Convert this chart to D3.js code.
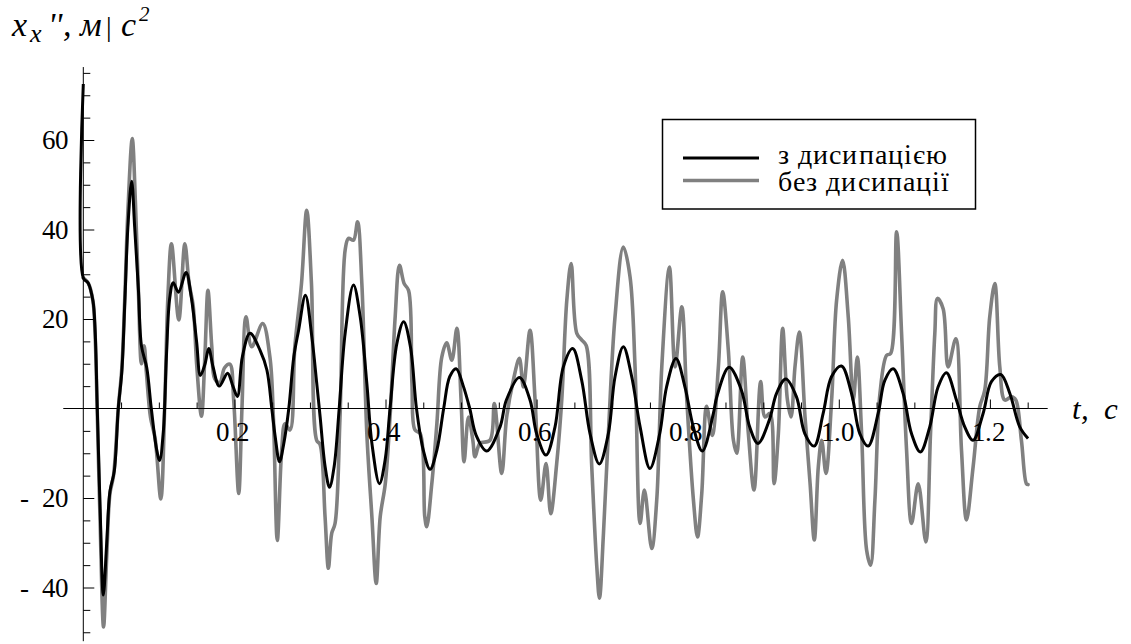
<!DOCTYPE html>
<html>
<head>
<meta charset="utf-8">
<script src="https://cdn.jsdelivr.net/npm/d3@7"></script>
<style>
  @font-face { font-family: "SerifX"; font-style: normal; font-weight: 400;
    src: local("Liberation Serif"), local("LiberationSerif"), local("Times New Roman"), local("Tinos"); }
  @font-face { font-family: "SerifX"; font-style: italic; font-weight: 400;
    src: local("Liberation Serif Italic"), local("LiberationSerif-Italic"), local("Times New Roman Italic"), local("Tinos Italic"); }
  html, body { margin: 0; padding: 0; background: #fff; }
  svg { display: block; }
  svg text { font-family: "SerifX", "Liberation Serif", "Times New Roman"; }
</style>
</head>
<body>
<svg id="chart" width="1131" height="644"></svg>
<script>
// ---------- data ----------
const tBlack = [0, 0, 0.0066, 0.0128, 0.0155, 0.0185, 0.0222, 0.0265, 0.031, 0.0353, 0.041, 0.0463, 0.051, 0.055, 0.059, 0.064, 0.068, 0.073, 0.077, 0.084, 0.090, 0.097, 0.101, 0.106, 0.110, 0.1145, 0.119, 0.126, 0.136, 0.143, 0.150, 0.155, 0.161, 0.166, 0.172, 0.18, 0.191, 0.198, 0.204, 0.2106, 0.2207, 0.234, 0.243, 0.2495, 0.254, 0.2597, 0.2654, 0.272, 0.2786, 0.285, 0.294, 0.3025, 0.309, 0.3135, 0.3201, 0.3259, 0.332, 0.3387, 0.3466, 0.3576, 0.3665, 0.3753, 0.382, 0.392, 0.3995, 0.406, 0.415, 0.424, 0.433, 0.441, 0.450, 0.459, 0.468, 0.477, 0.485, 0.4935, 0.503, 0.5115, 0.52, 0.534, 0.5516, 0.560, 0.5772, 0.5913, 0.600, 0.6125, 0.6244, 0.6354, 0.6478, 0.6597, 0.6707, 0.683, 0.695, 0.7038, 0.7148, 0.7259, 0.737, 0.750, 0.763, 0.772, 0.7845, 0.7964, 0.8074, 0.8193, 0.834, 0.8385, 0.8548, 0.8711, 0.882, 0.893, 0.908, 0.9176, 0.9299, 0.944, 0.955, 0.9674, 0.9793, 0.9903, 1.0035, 1.0168, 1.0278, 1.0388, 1.0521, 1.0609, 1.0719, 1.0851, 1.0962, 1.108, 1.1204, 1.1314, 1.1424, 1.1557, 1.1667, 1.1777, 1.191, 1.202, 1.2144, 1.2263, 1.2395, 1.2505];
const vBlack = [72.5, 29.2, 28, 24, 18, 0, -22, -41.7, -30, -18.5, -14, 0, 8.3, 24, 40.5, 50.8, 40.5, 26.4, 14, 9.1, 0, -9.1, -11.6, -5, 11.6, 24.8, 28.1, 26, 30.4, 24.8, 14.9, 7.4, 9.9, 13.4, 9.1, 5, 7.9, 5, 2.7, 11.6, 16.8, 13, 8.6, 0, -6.3, -11.9, -7.8, 0, 11.5, 17.5, 25.3, 16, 5.6, -1.9, -13, -17.6, -13, 0, 16.8, 27.6, 20.5, 5.6, -7.8, -16.8, -11.5, 0, 14.5, 19.4, 13.8, 0, -9.3, -13.6, -9.3, 0, 7.1, 8.9, 5, 0, -6, -9.5, -4.1, 1.9, 6.9, 1.9, -5.6, -10.4, -4.1, 9.3, 13.4, 6.3, -5.6, -12.4, -5.6, 7.1, 13.8, 7.1, -4.1, -13.4, -5.6, 4.8, 11.2, 4.8, -4.1, -9.5, -1.1, 2.6, 9.2, 4.1, -4.1, -7.8, -2.6, 3.4, 6.6, 2.6, -5.6, -8.4, -1.1, 7.1, 9.5, 3.4, -5.6, -8.4, -1.1, 6.3, 8.9, 3.4, -5.6, -9.7, -4.1, 4.8, 8.0, 1.9, -4.1, -7.1, -1.1, 6, 7.6, 3.4, -4.1, -6.7];

const tGray = [0, 0.0066, 0.0128, 0.0155, 0.0185, 0.0222, 0.0268, 0.031, 0.0353, 0.040, 0.0463, 0.051, 0.055, 0.059, 0.0648, 0.069, 0.073, 0.077, 0.0805, 0.0835, 0.089, 0.095, 0.1026, 0.108, 0.112, 0.1167, 0.1264, 0.1344, 0.140, 0.1454, 0.150, 0.1564, 0.161, 0.165, 0.170, 0.174, 0.1806, 0.187, 0.194, 0.199, 0.2057, 0.210, 0.2154, 0.2229, 0.2374, 0.247, 0.2516, 0.2568, 0.2626, 0.267, 0.2736, 0.280, 0.2888, 0.2957, 0.302, 0.3089, 0.3133, 0.32, 0.3244, 0.3288, 0.3332, 0.3398, 0.3466, 0.351, 0.3576, 0.363, 0.3687, 0.3753, 0.382, 0.3877, 0.393, 0.3997, 0.406, 0.4128, 0.4185, 0.4247, 0.4305, 0.435, 0.439, 0.446, 0.452, 0.4546, 0.4613, 0.468, 0.4745, 0.481, 0.4878, 0.4945, 0.500, 0.504, 0.5098, 0.5156, 0.5185, 0.525, 0.5383, 0.544, 0.5538, 0.5604, 0.5692, 0.5772, 0.5825, 0.5913, 0.598, 0.6055, 0.6125, 0.6187, 0.6266, 0.6333, 0.640, 0.6457, 0.6532, 0.6598, 0.6656, 0.673, 0.6797, 0.6832, 0.6885, 0.695, 0.7038, 0.7148, 0.7237, 0.7303, 0.737, 0.7427, 0.7524, 0.759, 0.7657, 0.7758, 0.7833, 0.7922, 0.7988, 0.8076, 0.813, 0.8186, 0.825, 0.8325, 0.8406, 0.8463, 0.8538, 0.8605, 0.8649, 0.8728, 0.8803, 0.8878, 0.8966, 0.9024, 0.909, 0.9143, 0.92, 0.9257, 0.932, 0.9368, 0.942, 0.9478, 0.9553, 0.962, 0.9676, 0.9729, 0.9773, 0.983, 0.9905, 0.9971, 1.005, 1.0125, 1.0192, 1.0245, 1.0302, 1.0368, 1.0421, 1.0478, 1.0545, 1.0633, 1.0686, 1.0765, 1.0831, 1.0897, 1.0963, 1.1051, 1.1152, 1.1214, 1.1271, 1.1306, 1.1381, 1.1447, 1.1549, 1.1624, 1.169, 1.1778, 1.1866, 1.1932, 1.1998, 1.2065, 1.2131, 1.2197, 1.2285, 1.2342, 1.2417, 1.2483, 1.2505];
const vGray = [29.2, 28, 24, 17, -1, -25, -48.8, -33, -19, -15, 0, 9, 25, 44, 60.3, 46, 26, 10, 14, 8, -2, -6.6, -20.2, 2, 25, 36.8, 19.8, 36.8, 28, 23, 10, -1.7, 12, 26.4, 14, 6.6, 5.8, 9.1, 9.9, 2, -19, 0, 20.5, 13.8, 19, 11.5, -1.9, -29.5, -9.3, -3.4, -4.8, 13.8, 27.9, 44.3, 27.9, -7.1, -8, -24.2, -35.7, -27.9, -25.7, -1.9, 35.4, 38, 37.6, 41.7, 27.9, -5.6, -24.2, -39.1, -24.2, -16.8, -1.9, 20.5, 32, 27.9, 26.4, 5.6, -4.8, -5.6, -24.2, -26.4, -16.8, -3.4, 11.5, 14.7, 10.8, 17.9, 2, -11.9, -1.9, -7.1, -10.8, -7.8, -7.1, 1.1, -14.5, -1.9, 6.3, 11.2, 4.8, 17.5, 1.9, -20.5, -12.3, -23.5, -12.3, 1.9, 24.2, 32.4, 16.8, 15.3, 14.1, -13, -35.4, -42.4, -27.9, -5.6, 20.5, 36.1, 29.4, 9.3, -25.7, -18.2, -31.3, -20.5, 9.3, 31.6, 9.3, 22.7, 1.9, -20.5, -28.7, -19, 0.5, -6, 9.3, 26.1, 13, -7.1, -10, 11.5, -5.6, -18.2, 6, -1.9, -1.1, -16.8, -5.6, 17.9, 1.9, -1.9, 9.3, 17.1, -1.9, -16.8, -29.4, -13, -7.1, -14.5, 1.9, 24.2, 33.1, 20.5, 1.9, 11.5, -5.6, -31.6, -35, -20.5, 3.4, 11.9, 12.3, 39.5, 16.8, -9.3, -25.7, -16.8, -29.8, -5.6, 16.8, 24.6, 22.3, 9.3, 15.6, -9.3, -24.9, -13, 0.4, 4.1, 20.5, 27.9, 9.3, 1.9, 2.6, 1.9, -7.1, -16.8, -17];

const seriesNames = ["з дисипацією", "без дисипації"];
const yMajorTicks = [-40, -20, 20, 40, 60];
const yMajorLabels = ["- 40", "- 20", "20", "40", "60"];
const yMinorTicks = [-50, -45, -35, -30, -25, -15, -10, -5, 5, 10, 15, 25, 30, 35, 45, 50, 55, 65, 70, 75];
const xMajorTicks = [0.2, 0.4, 0.6, 0.8, 1.0, 1.2];
const xMajorLabels = ["0.2", "0.4", "0.6", "0.8", "1.0", "1.2"];
const xMinorTicks = [0.05, 0.1, 0.15, 0.25, 0.3, 0.35, 0.45, 0.5, 0.55, 0.65, 0.7, 0.75, 0.85, 0.9, 0.95, 1.05, 1.1, 1.15, 1.25];

// ---------- scales ----------
const svg = d3.select("#chart");
const x = d3.scaleLinear().domain([0, 1.25]).range([83.3, 83.3 + 1.25 * 755.5]);
const y = d3.scaleLinear().domain([0, 20]).range([408.5, 408.5 - 89.5]);

const blackData = tBlack.map((t, i) => [t, vBlack[i]]);
const grayData = tGray.map((t, i) => [t, vGray[i]]);

const line = d3.line().x(d => x(d[0])).y(d => y(d[1])).curve(d3.curveCatmullRom.alpha(0.5));

// ---------- curves ----------
svg.append("path").datum(grayData).attr("d", line)
  .attr("fill", "none").attr("stroke", "#808080").attr("stroke-width", 3.6)
  .attr("stroke-linejoin", "round").attr("stroke-linecap", "round");
svg.append("path").datum(blackData).attr("d", line)
  .attr("fill", "none").attr("stroke", "#000").attr("stroke-width", 3)
  .attr("stroke-linejoin", "round");

// ---------- axes ----------
const axisG = svg.append("g");
axisG.append("line")
  .attr("x1", x(-0.0265)).attr("x2", x(1.2765))
  .attr("y1", y(0)).attr("y2", y(0))
  .attr("stroke", "#000").attr("stroke-width", 1);
axisG.append("line")
  .attr("x1", x(0)).attr("x2", x(0))
  .attr("y1", y(76.3)).attr("y2", y(-52))
  .attr("stroke", "#000").attr("stroke-width", 1);

function styleAxis(g) {
  g.select(".domain").remove();
  g.attr("font-family", null).attr("font-size", null);
  g.selectAll(".tick line").attr("stroke", "#000").attr("stroke-width", 1);
}

svg.append("g").attr("transform", `translate(${x(0)},0)`)
  .call(d3.axisRight(y).tickValues(yMinorTicks).tickSize(7).tickFormat(""))
  .call(styleAxis);
svg.append("g").attr("transform", `translate(${x(0)},0)`)
  .call(d3.axisRight(y).tickValues(yMajorTicks).tickSize(11).tickFormat(""))
  .call(styleAxis);
const yLab = svg.append("g").attr("transform", `translate(${x(0)},0)`)
  .call(d3.axisLeft(y).tickValues(yMajorTicks).tickSize(0).tickPadding(14.5)
    .tickFormat((d, i) => yMajorLabels[i].replace("- ", "-\u2002")))
  .call(styleAxis);
yLab.selectAll("text").attr("font-size", 27)
  .attr("letter-spacing", -0.5).attr("fill", "#000");

svg.append("g").attr("transform", `translate(0,${y(0)})`)
  .call(d3.axisTop(x).tickValues(xMinorTicks).tickSize(6).tickFormat(""))
  .call(styleAxis);
svg.append("g").attr("transform", `translate(0,${y(0)})`)
  .call(d3.axisTop(x).tickValues(xMajorTicks).tickSize(9).tickFormat(""))
  .call(styleAxis);
const xLab = svg.append("g").attr("transform", `translate(-2,${y(0)})`)
  .call(d3.axisBottom(x).tickValues(xMajorTicks).tickSize(0).tickPadding(13)
    .tickFormat((d, i) => xMajorLabels[i]))
  .call(styleAxis);
xLab.selectAll("text").attr("font-size", 27)
  .attr("letter-spacing", -0.5).attr("fill", "#000");

// ---------- axis titles ----------
const title = svg.append("text")
  .attr("font-style", "italic").attr("font-size", 34).attr("y", 36);
title.append("tspan").attr("x", 12).text("x");
title.append("tspan").attr("x", 30).attr("dy", 6).attr("font-size", 26).text("x");
title.append("tspan").attr("x", 48).attr("dy", -6).text("''");
title.append("tspan").attr("x", 63).text(",");
title.append("tspan").attr("x", 80).text("м");
title.append("tspan").attr("x", 106).attr("font-style", "normal").attr("font-size", 28).text("|");
title.append("tspan").attr("x", 121).text("c");
title.append("tspan").attr("x", 139).attr("dy", -15).attr("font-size", 21).text("2");

const tl = svg.append("text")
  .attr("font-style", "italic").attr("font-size", 31).attr("y", 419);
tl.append("tspan").attr("x", 1072).text("t,");
tl.append("tspan").attr("x", 1104).text("c");

// ---------- legend ----------
const lg = svg.append("g");
lg.append("rect").attr("x", 662.5).attr("y", 119.5).attr("width", 313).attr("height", 89.5)
  .attr("fill", "#fff").attr("stroke", "#000").attr("stroke-width", 1.5);
const legendColors = ["#000", "#808080"];
const legendWidths = [3, 3.6];
seriesNames.forEach((name, i) => {
  const yy = 158 + i * 22.5;
  lg.append("line").attr("x1", 683).attr("x2", 759).attr("y1", yy).attr("y2", yy)
    .attr("stroke", legendColors[i]).attr("stroke-width", legendWidths[i]);
  lg.append("text").attr("x", 778).attr("y", 164 + i * 27).attr("font-size", 28)
    .attr("letter-spacing", 1.1)
    .text(name);
});
</script>
</body>
</html>
